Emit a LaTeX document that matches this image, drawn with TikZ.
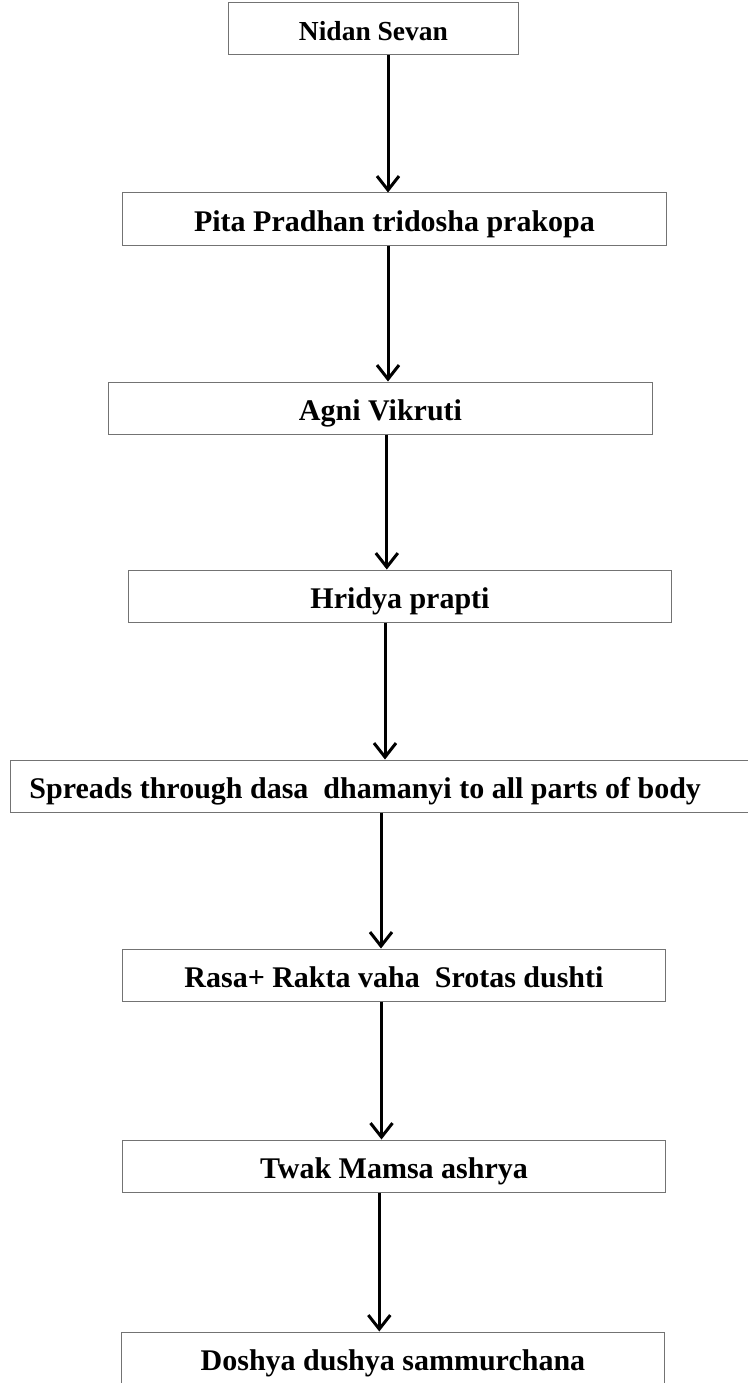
\documentclass[tikz,border=0pt]{standalone}
\usepackage{fontspec}
\setmainfont{Liberation Serif}
\usepackage{tikz}
\usetikzlibrary{arrows.meta}
\tikzstyle{block} = [rectangle, minimum width=543pt, minimum height=52pt, text centered, text height=27pt, text depth=3pt, draw=black!55, line width=1pt, font=\fontsize{30}{36}\selectfont\bfseries]
\tikzstyle{wideblock} = [block, text width=723pt, align=flush left, inner xsep=18.5pt]
\tikzstyle{arrow} = [line width=3pt, -{Straight Barb[length=14pt, width=22pt]}]

\begin{document}
\begin{tikzpicture}[node distance=189pt]
\useasboundingbox (-373.5pt,29pt) rectangle (373.5pt,-1354pt);
% Nodi principali
\node (nidan) [block, minimum width=289pt, font=\fontsize{27.5}{33}\selectfont\bfseries] {Nidan Sevan};
\node (pita) [block, below of=nidan, xshift=21pt, yshift=-1pt] {Pita Pradhan tridosha prakopa};
\node (agni) [block, below of=pita, xshift=-14pt] {Agni Vikruti};
\node (hridya) [block, below of=agni, xshift=19.5pt, yshift=1pt] {Hridya prapti};
\node (spreads) [wideblock, below of=hridya, xshift=-9pt, yshift=-1pt] {Spreads through dasa~ dhamanyi to all parts of body};
\node (rasa) [block, below of=spreads, xshift=3pt] {Rasa+ Rakta vaha~ Srotas dushti};
\node (twak) [block, below of=rasa, yshift=-2pt] {Twak Mamsa ashrya};
\node (doshya) [block, below of=twak, xshift=-1pt, yshift=-3pt] {Doshya dushya sammurchana};

% Frecce
\draw [arrow] ([xshift=14.5pt]nidan.south) -- ([xshift=14.5pt]nidan.south |- pita.north);
\draw [arrow] ([xshift=-6.5pt]pita.south) -- ([xshift=-6.5pt]pita.south |- agni.north);
\draw [arrow] ([xshift=6.3pt]agni.south) -- ([xshift=6.3pt]agni.south |- hridya.north);
\draw [arrow] ([xshift=-15pt]hridya.south) -- ([xshift=-15pt]hridya.south |- spreads.north);
\draw [arrow] ([xshift=-10pt]spreads.south) -- ([xshift=-10pt]spreads.south |- rasa.north);
\draw [arrow] ([xshift=-12.5pt]rasa.south) -- ([xshift=-12.5pt]rasa.south |- twak.north);
\draw [arrow] ([xshift=-14.7pt]twak.south) -- ([xshift=-14.7pt]twak.south |- doshya.north);
\end{tikzpicture}
\end{document}
